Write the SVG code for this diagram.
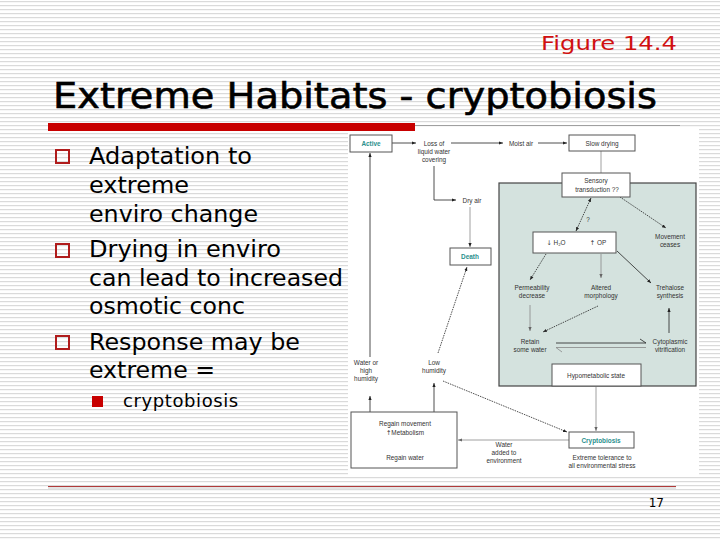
<svg xmlns="http://www.w3.org/2000/svg" width="720" height="540" viewBox="0 0 720 540">
<defs>
<pattern id="stripes" width="8" height="4" patternUnits="userSpaceOnUse">
<rect width="8" height="4" fill="#ffffff"/>
<rect y="1" width="8" height="1.2" fill="#dadada"/>
</pattern>
<marker id="ah" viewBox="0 0 10 10" refX="10" refY="5" markerWidth="4" markerHeight="4" markerUnits="userSpaceOnUse" orient="auto-start-reverse">
<path d="M0,1 L10,5 L0,9 z" fill="#222"/>
</marker>
<marker id="ahg" viewBox="0 0 10 10" refX="10" refY="5" markerWidth="4" markerHeight="4" markerUnits="userSpaceOnUse" orient="auto-start-reverse">
<path d="M0,1 L10,5 L0,9 z" fill="#666"/>
</marker>
</defs>
<style>
.bul{font-family:"DejaVu Sans","Verdana",sans-serif;font-size:23px;fill:#000}
.ft{font-family:"Liberation Sans",Arial,sans-serif;font-size:6.4px;fill:#333;text-anchor:middle}
.ar{font-family:"DejaVu Sans",sans-serif;fill:#333}
.tl{font-family:"Liberation Sans",Arial,sans-serif;font-size:6.4px;fill:#2a8f8c;font-weight:bold;text-anchor:middle}
.box{fill:#ffffff;stroke:#555;stroke-width:1}
.ln{fill:none;stroke:#222;stroke-width:0.8}
.lg{fill:none;stroke:#888;stroke-width:0.8}
.dot{fill:none;stroke:#222;stroke-width:0.8;stroke-dasharray:1.5 1}
.hb{fill:none;stroke:#b01c1c;stroke-width:2}
</style>
<rect width="720" height="540" fill="url(#stripes)"/>

<!-- slide header -->
<text x="677" y="50" text-anchor="end" font-family="DejaVu Sans, sans-serif" font-size="20" fill="#d01010" textLength="136" lengthAdjust="spacingAndGlyphs">Figure 14.4</text>
<text x="53" y="108" font-family="DejaVu Sans, sans-serif" font-size="36" fill="#000" stroke="#000" stroke-width="0.6" textLength="604" lengthAdjust="spacingAndGlyphs">Extreme Habitats - cryptobiosis</text>

<!-- figure background -->
<rect x="348" y="128" width="351" height="347" fill="#ffffff"/>
<rect x="48" y="123" width="367" height="8" fill="#c80000"/>
<line x1="415" y1="125.5" x2="680" y2="125.5" stroke="#a0a0a0" stroke-width="1"/>

<!-- bullets -->
<g id="bullets">
<rect x="56" y="150" width="13" height="13" class="hb"/>
<text class="bul" x="89" y="164" textLength="163" lengthAdjust="spacingAndGlyphs">Adaptation to</text>
<text class="bul" x="89" y="193" textLength="100" lengthAdjust="spacingAndGlyphs">extreme</text>
<text class="bul" x="89" y="222" textLength="169" lengthAdjust="spacingAndGlyphs">enviro change</text>
<rect x="56" y="244" width="13" height="13" class="hb"/>
<text class="bul" x="89" y="257" textLength="192" lengthAdjust="spacingAndGlyphs">Drying in enviro</text>
<text class="bul" x="89" y="286" textLength="254" lengthAdjust="spacingAndGlyphs">can lead to increased</text>
<text class="bul" x="89" y="314" textLength="156" lengthAdjust="spacingAndGlyphs">osmotic conc</text>
<rect x="56" y="336" width="13" height="13" class="hb"/>
<text class="bul" x="89" y="350" textLength="211" lengthAdjust="spacingAndGlyphs">Response may be</text>
<text class="bul" x="89" y="378" textLength="126" lengthAdjust="spacingAndGlyphs">extreme =</text>
<rect x="92" y="396" width="11" height="11" fill="#c80000"/>
<text x="123" y="407" font-family="DejaVu Sans, sans-serif" font-size="18" letter-spacing="0.6" fill="#000">cryptobiosis</text>
</g>

<!-- shaded panel -->
<rect x="499" y="183" width="197" height="203" fill="#d4e2de" stroke="#444" stroke-width="1.2"/>

<!-- connectors -->
<g id="connectors">
<line class="ln" x1="392" y1="143" x2="416" y2="143" marker-end="url(#ah)"/>
<line class="ln" x1="451" y1="143" x2="503" y2="143" marker-end="url(#ah)"/>
<line class="ln" x1="538" y1="143" x2="567" y2="143" marker-end="url(#ah)"/>
<line class="lg" x1="601" y1="151" x2="601" y2="173"/>
<polyline class="ln" points="434,166 434,200 456,200" marker-end="url(#ah)"/>
<line class="lg" x1="470" y1="207" x2="470" y2="247" marker-end="url(#ah)"/>
<line class="dot" x1="591" y1="198" x2="576" y2="231" marker-start="url(#ah)" marker-end="url(#ah)"/>
<line class="dot" x1="620" y1="197" x2="666" y2="228" marker-end="url(#ah)"/>
<line class="dot" x1="546" y1="254" x2="530" y2="280" marker-end="url(#ah)"/>
<line class="lg" x1="601" y1="254" x2="601" y2="278" marker-end="url(#ahg)"/>
<line class="ln" x1="617" y1="251" x2="651" y2="283" marker-end="url(#ah)"/>
<line class="lg" x1="530" y1="305" x2="530" y2="331" marker-end="url(#ahg)"/>
<line class="dot" x1="598" y1="306" x2="543" y2="332" marker-end="url(#ah)"/>
<line class="ln" x1="669" y1="333" x2="669" y2="308" marker-end="url(#ah)"/>
<polyline class="ln" points="556,343 646,343 640,339"/>
<polyline class="lg" points="562,352 556,347.5 646,347.5"/>
<line class="lg" x1="596" y1="386" x2="596" y2="431" marker-end="url(#ahg)"/>
<line class="dot" x1="443" y1="381" x2="567" y2="432" marker-end="url(#ah)"/>
<line class="dot" x1="438" y1="353" x2="467" y2="267" marker-end="url(#ah)"/>
<line class="ln" x1="370" y1="412" x2="370" y2="396" marker-end="url(#ah)"/>
<line class="ln" x1="434" y1="412" x2="434" y2="383" marker-end="url(#ah)"/>
<line class="ln" x1="370" y1="357" x2="370" y2="153" marker-end="url(#ah)"/>
<line class="lg" x1="569" y1="440" x2="458" y2="440" marker-end="url(#ahg)"/>
<line class="ln" x1="404" y1="453" x2="404" y2="437" marker-end="url(#ah)"/>
<text class="ft" x="588" y="222">?</text>
</g>

<!-- nodes -->
<g id="n-active"><rect class="box" x="350" y="135" width="42" height="17"/><text class="tl" x="371" y="146">Active</text></g>
<g id="n-loss"><text class="ft" x="434" y="146">Loss of</text><text class="ft" x="434" y="154">liquid water</text><text class="ft" x="434" y="162">covering</text></g>
<g id="n-moist"><text class="ft" x="521" y="146">Moist air</text></g>
<g id="n-slow"><rect class="box" x="569" y="135" width="66" height="16"/><text class="ft" x="602" y="146">Slow drying</text></g>
<g id="n-dry"><text class="ft" x="472" y="203">Dry air</text></g>
<g id="n-death"><rect class="box" x="450" y="248" width="41" height="17"/><text class="tl" x="470" y="259">Death</text></g>
<g id="n-sensory"><rect class="box" x="562" y="173" width="68" height="24"/><text class="ft" x="596" y="183">Sensory</text><text class="ft" x="597" y="192">transduction ??</text></g>
<g id="n-h2o"><rect class="box" x="533" y="232" width="83" height="21"/><text class="ft" x="556" y="245"><tspan class="ar">↓</tspan> H₂O</text><text class="ft" x="598" y="245"><tspan class="ar">↑</tspan> OP</text></g>
<g id="n-move"><text class="ft" x="670" y="239">Movement</text><text class="ft" x="670" y="247">ceases</text></g>
<g id="n-perm"><text class="ft" x="532" y="290">Permeability</text><text class="ft" x="532" y="298">decrease</text></g>
<g id="n-alt"><text class="ft" x="601" y="290">Altered</text><text class="ft" x="601" y="298">morphology</text></g>
<g id="n-tre"><text class="ft" x="670" y="290">Trehalose</text><text class="ft" x="670" y="298">synthesis</text></g>
<g id="n-retain"><text class="ft" x="530" y="344">Retain</text><text class="ft" x="530" y="352">some water</text></g>
<g id="n-cyto"><text class="ft" x="670" y="344">Cytoplasmic</text><text class="ft" x="670" y="352">vitrification</text></g>
<g id="n-hypo"><rect class="box" x="552" y="364" width="89" height="22"/><text class="ft" x="596" y="378">Hypometabolic state</text></g>
<g id="n-crypto"><rect class="box" x="569" y="432" width="65" height="16"/><text class="tl" x="601" y="443">Cryptobiosis</text></g>
<g id="n-tol"><text class="ft" x="602" y="460">Extreme tolerance to</text><text class="ft" x="602" y="468">all environmental stress</text></g>
<g id="n-water"><text class="ft" x="366" y="365">Water or</text><text class="ft" x="366" y="373">high</text><text class="ft" x="366" y="381">humidity</text></g>
<g id="n-low"><text class="ft" x="434" y="365">Low</text><text class="ft" x="434" y="373">humidity</text></g>
<g id="n-regain"><rect class="box" x="351" y="412" width="106" height="56"/><text class="ft" x="405" y="426">Regain movement</text><text class="ft" x="405" y="435"><tspan class="ar">↑</tspan>Metabolism</text><text class="ft" x="405" y="460">Regain water</text></g>
<g id="n-added"><text class="ft" x="504" y="447">Water</text><text class="ft" x="504" y="455">added to</text><text class="ft" x="504" y="463">environment</text></g>

<!-- footer -->
<line x1="48" y1="486.5" x2="676" y2="486.5" stroke="#b03a3a" stroke-width="1"/>
<line x1="48" y1="488" x2="676" y2="488" stroke="#c8c8c8" stroke-width="1"/>
<text x="664" y="507" text-anchor="end" font-family="DejaVu Sans, sans-serif" font-size="12" fill="#000">17</text>
</svg>
